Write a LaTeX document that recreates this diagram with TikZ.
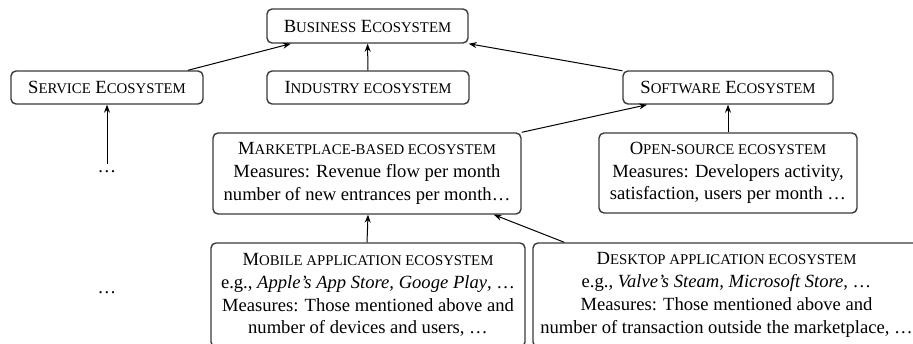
\documentclass[tikz,border=0pt]{standalone}
\usepackage{fontspec}
\setmainfont{Liberation Serif}
\usepackage{tikz}
\usetikzlibrary{arrows.meta, positioning}
\definecolor{boxgray}{HTML}{3A3A3A}
\newcommand{\smc}[1]{{\fontsize{7.4}{9}\selectfont\MakeUppercase{#1}}}

\begin{document}
\begin{tikzpicture}[x=0.5pt, y=-0.5pt, font=\fontsize{9.3}{11.4}\selectfont]
    \tikzset{
      eco/.style={draw=boxgray, rounded corners=2.5pt, line width=0.7pt, align=center, inner sep=0pt},
      link/.style={-{Stealth[length=4pt, width=3pt]}, line width=0.5pt, black}
    }
    \clip (0,0) rectangle (913,343);
    % Top levels
    \node[eco, minimum width=100.5pt, minimum height=17pt] (biz) at (367.5,26) {B\smc{usiness} E\smc{cosystem}};
    \node[eco, minimum width=96pt, minimum height=16.5pt] (serv) at (107,87.5) {S\smc{ervice} E\smc{cosystem}};
    \node[eco, minimum width=101pt, minimum height=16.5pt] (ind) at (368,87.5) {I\smc{ndustry ecosystem}};
    \node[eco, minimum width=105pt, minimum height=16.5pt] (soft) at (728,87.5) {S\smc{oftware} E\smc{cosystem}};
    % Software ecosystem types
    \node[eco, minimum width=154pt, minimum height=40.5pt] (market) at (367,173.5) {M\smc{arketplace-based ecosystem}\\Measures: Revenue flow per month\\number of new entrances per month\dots};
    \node[eco, minimum width=129pt, minimum height=40pt] (open) at (728,173) {O\smc{pen-source ecosystem}\\Measures: Developers activity,\\satisfaction, users per month \dots};
    % Marketplace types
    \node[eco, minimum width=157pt, minimum height=52pt] (mobile) at (368,295) {M\smc{obile application ecosystem}\\e.g., \textit{Apple’s App Store, Googe Play}, \dots\\Measures: Those mentioned above and\\number of devices and users, \dots};
    \node[eco, minimum width=193.5pt, minimum height=52pt] (desk) at (726.5,295) {D\smc{esktop application ecosystem}\\e.g., \textit{Valve’s Steam, Microsoft Store}, \dots\\Measures: Those mentioned above and\\number of transaction outside the marketplace, \dots};
    \node (dotsa) at (107,172) {\dots};
    \node (dotsb) at (107,293) {\dots};
    % Links
    \draw[link] (serv.12) -- (biz.193);
    \draw[link] (ind) -- (biz);
    \draw[link] (soft.171) -- (biz.south east);
    \draw[link] (market.north east) -- (soft.192);
    \draw[link] (open) -- (soft);
    \draw[link] (dotsa) -- (serv);
    \draw[link] (mobile.north -| market.south) -- (market.south -| mobile.north);
    \draw[link] (desk.162) -- (market.-18);
  \end{tikzpicture}
\end{document}
